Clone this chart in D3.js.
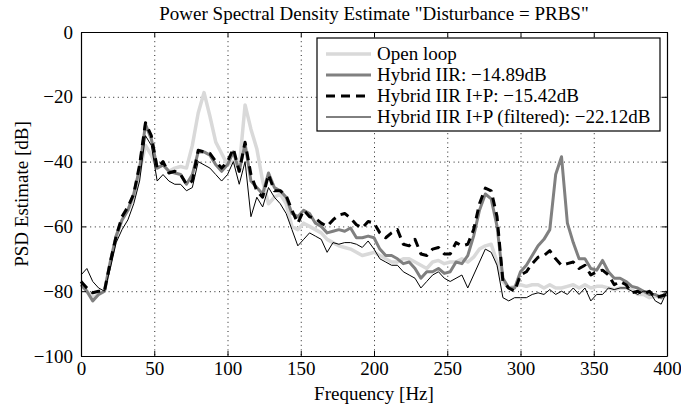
<!DOCTYPE html>
<html>
<head>
<meta charset="utf-8">
<script src="https://cdn.jsdelivr.net/npm/d3@7"></script>
<style>
  body { margin: 0; background: #fff; }
  svg text { font-family: "Liberation Serif", "Times New Roman", serif; fill: #000; }
</style>
</head>
<body>
<div id="chart"></div>
<script>
// frequency bins [Hz]
var freqs = [0,4,8,12,16,20,24,28,32,36,40,44,48,52,56,60,64,68,72,76,80,84,88,92,96,100,
  104,108,112,116,120,124,128,132,136,140,144,148,152,156,160,164,168,172,176,180,184,188,192,196,200,
  204,208,212,216,220,224,228,232,236,240,244,248,252,256,260,264,268,272,276,280,284,288,292,296,300,
  304,308,312,316,320,324,328,332,336,340,344,348,352,356,360,364,368,372,376,380,384,388,392,396,400];

var openLoop = [-77,-80,-82,-81,-80,-71,-63,-58,-55,-51,-43,-35,-38,-42,-41,-43,-42,-41.5,-42,-35,-25,-18.7,-26,-34,-37.5,-41,
  -40,-42,-22.5,-30,-36,-46,-53,-51,-50,-53,-60,-61,-59,-60,-61,-62,-64,-65,-66,-66.5,-67,-68,-69,-68.5,-68,
  -69,-70,-71,-71,-70,-70,-71,-72,-73,-71,-70.5,-71.5,-71,-71,-70,-71,-69.5,-67,-66,-65.5,-71,-77,-79,-78.5,-78,
  -78.5,-78,-78,-79,-78,-79,-79,-78.5,-78,-79,-78,-79,-78.5,-78.5,-79,-79.5,-79,-79,-79.5,-81,-81,-82,-81.5,-82,-81];

var hybridIIR = [-78,-80,-83,-81,-80,-71,-63,-58,-55,-50,-42,-28.5,-33,-42,-41,-43,-43.5,-44,-47,-44,-37,-37,-38,-41,-43,-41,
  -37,-43,-34.5,-46,-48,-50,-43.5,-48,-49,-51,-56,-57,-55,-56,-59,-60,-62,-61.5,-61,-61.5,-60.5,-63.5,-63.5,-63,-63.5,
  -67,-69,-69,-70,-71.5,-71,-73,-76,-74,-74,-73,-74.5,-74,-71,-71.5,-69,-63,-55,-50,-51.5,-60,-76,-79,-79,-74,
  -72,-69,-66,-64,-61,-44,-38.5,-59,-65,-70,-70,-73,-73.5,-70.5,-74,-76,-76,-77,-78.5,-79,-80,-81,-81,-82,-80];

var hybridIP = [-77,-79,-80.5,-80,-80,-71,-63,-57,-54,-50,-41,-28,-32,-42,-40,-43.5,-43,-44,-47,-46,-36.5,-37,-37.5,-40,-42,-40,
  -36,-43,-34,-44,-49,-51,-44,-49,-49,-50.5,-55,-59,-55,-57,-57.5,-59,-60,-58,-56.5,-56,-57.5,-59.5,-60.5,-58.5,-59,
  -62,-63.5,-62,-61,-65.5,-66,-64,-68.5,-69,-67,-66.5,-68.5,-68.5,-65,-66,-65.5,-61,-53,-48.2,-49,-57,-77,-79,-80,-75,
  -74,-71.5,-69.5,-69,-67.5,-70,-72,-71.5,-71,-73,-72,-75,-74,-73.5,-75,-78,-77,-78,-80.5,-80,-81,-80,-82,-81.5,-81];

var hybridIPf = [-75,-73,-77,-79,-80,-73,-65,-61,-58,-53,-46,-32,-35,-46,-44,-46,-47,-47,-49,-48,-40,-41,-42,-44,-46,-44,
  -40,-47,-40,-57,-51,-54,-48,-51,-53,-56,-61,-66,-64,-62,-63,-64,-68,-65,-65.5,-65,-65,-65.5,-66.5,-64.5,-67,
  -70,-71,-72,-72,-74,-75,-76,-79,-77,-75,-74,-76,-77,-76,-75,-79,-75,-71,-67,-68,-72,-82,-83,-82,-82,
  -82,-81,-80.5,-81,-79.5,-81,-80,-81,-79,-81,-79,-83,-81,-81,-79,-79.5,-79,-79,-80,-81,-80,-80,-83,-84,-80];

var seriesNames = ["Open loop", "Hybrid IIR: \u221214.89dB", "Hybrid IIR I+P: \u221215.42dB", "Hybrid IIR I+P (filtered): \u221222.12dB"];
var xTicks = [0, 50, 100, 150, 200, 250, 300, 350, 400];
var yTicks = [0, -20, -40, -60, -80, -100];

var width = 681, height = 408;
var margin = {top: 32, right: 14, bottom: 52, left: 81};

var svg = d3.select("#chart").append("svg")
  .attr("width", width)
  .attr("height", height);

var x = d3.scaleLinear().domain([0, 400]).range([margin.left, width - margin.right]);
var y = d3.scaleLinear().domain([-100, 0]).range([height - margin.bottom, margin.top]);

// dotted grid
var grid = svg.append("g").attr("class", "grid")
  .attr("stroke", "#222").attr("stroke-width", 1).attr("stroke-dasharray", "1,3.6");
grid.selectAll("line.gx").data(xTicks.slice(1, -1)).enter().append("line")
  .attr("x1", function(d) { return x(d) + 0.5; }).attr("x2", function(d) { return x(d) + 0.5; })
  .attr("y1", y(0)).attr("y2", y(-100));
grid.selectAll("line.gy").data(yTicks.slice(1, -1)).enter().append("line")
  .attr("y1", function(d) { return y(d) + 0.5; }).attr("y2", function(d) { return y(d) + 0.5; })
  .attr("x1", x(0)).attr("x2", x(400));

// curves
var line = d3.line()
  .x(function(d, i) { return x(freqs[i]); })
  .y(function(d) { return y(d); });

var styles = [
  {data: openLoop,  color: "#d9d9d9", w: 3.5, dash: null},
  {data: hybridIIR, color: "#808080", w: 3,   dash: null},
  {data: hybridIP,  color: "#000",    w: 3,   dash: "9,6"},
  {data: hybridIPf, color: "#000",    w: 1,   dash: null}
];

svg.append("g").selectAll("path").data(styles).enter().append("path")
  .attr("d", function(s) { return line(s.data); })
  .attr("fill", "none")
  .attr("stroke", function(s) { return s.color; })
  .attr("stroke-width", function(s) { return s.w; })
  .attr("stroke-dasharray", function(s) { return s.dash; })
  .attr("stroke-linejoin", "round");

// axes box with inward ticks on all four sides
var fs = "19px";
var axB = svg.append("g").attr("transform", "translate(0," + y(-100) + ")")
  .call(d3.axisBottom(x).tickValues(xTicks).tickSizeInner(-5).tickSizeOuter(0).tickPadding(6));
var axT = svg.append("g").attr("transform", "translate(0," + y(0) + ")")
  .call(d3.axisTop(x).tickValues(xTicks).tickSizeInner(-5).tickSizeOuter(0).tickFormat(""));
var axL = svg.append("g").attr("transform", "translate(" + x(0) + ",0)")
  .call(d3.axisLeft(y).tickValues(yTicks).tickSizeInner(-5).tickSizeOuter(0).tickPadding(8)
    .tickFormat(function(d) { return d < 0 ? "\u2212" + (-d) : d; }));
var axR = svg.append("g").attr("transform", "translate(" + x(400) + ",0)")
  .call(d3.axisRight(y).tickValues(yTicks).tickSizeInner(-5).tickSizeOuter(0).tickFormat(""));

[axB, axT, axL, axR].forEach(function(a) {
  a.select(".domain").attr("stroke", "#000").attr("stroke-width", 1.2);
  a.selectAll(".tick line").attr("stroke", "#000");
  a.selectAll("text").style("font-size", fs).style("font-family", "Liberation Serif, serif").attr("fill", "#000");
});

// title and labels
svg.append("text")
  .attr("x", (x(0) + x(400)) / 2).attr("y", 20)
  .attr("text-anchor", "middle").style("font-size", fs)
  .text("Power Spectral Density Estimate \"Disturbance = PRBS\"");

svg.append("text")
  .attr("x", (x(0) + x(400)) / 2).attr("y", 400)
  .attr("text-anchor", "middle").style("font-size", fs)
  .text("Frequency [Hz]");

svg.append("text")
  .attr("transform", "translate(28," + ((y(0) + y(-100)) / 2) + ") rotate(-90)")
  .attr("text-anchor", "middle").style("font-size", fs)
  .text("PSD Estimate [dB]");

// legend
var lg = svg.append("g").attr("class", "legend");
lg.append("rect")
  .attr("x", 317).attr("y", 38).attr("width", 343).attr("height", 93)
  .attr("fill", "#fff").attr("stroke", "#000").attr("stroke-width", 1.2);

var rows = lg.selectAll("g.row").data(styles).enter().append("g")
  .attr("transform", function(d, i) { return "translate(0," + (54 + i * 21) + ")"; });
rows.append("line")
  .attr("x1", 326).attr("x2", 371).attr("y1", 0).attr("y2", 0)
  .attr("stroke", function(s) { return s.color; })
  .attr("stroke-width", function(s) { return s.w; })
  .attr("stroke-dasharray", function(s) { return s.dash; });
rows.append("text")
  .attr("x", 377).attr("y", 6).style("font-size", fs)
  .text(function(d, i) { return seriesNames[i]; });
</script>
</body>
</html>
